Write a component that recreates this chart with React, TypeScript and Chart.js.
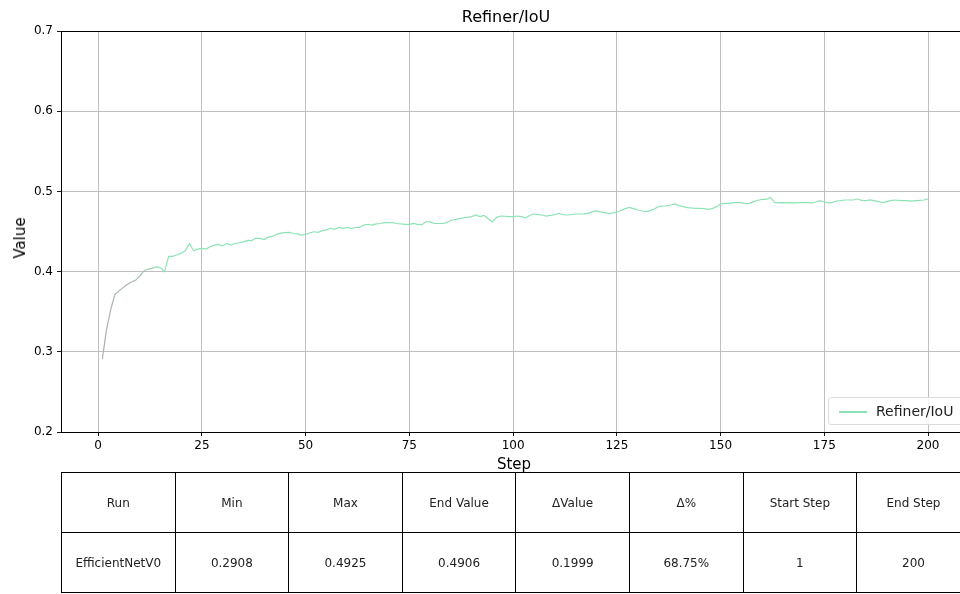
import React, { useEffect, useRef } from "react";
import { Chart, registerables } from "chart.js";

Chart.register(...registerables);

const chartTitle = "Refiner/IoU";
const seriesLabel = "Refiner/IoU";
const xAxisTitle = "Step";
const yAxisTitle = "Value";

const xTicks = [0, 25, 50, 75, 100, 125, 150, 175, 200];
const yTicks = [0.2, 0.3, 0.4, 0.5, 0.6, 0.7];

const firstStep = 1;
const iouValues = [
  0.2908, 0.327, 0.352, 0.371, 0.376, 0.38, 0.384, 0.387, 0.389, 0.394,
  0.401, 0.403, 0.404, 0.406, 0.405, 0.4, 0.419, 0.419, 0.421, 0.423,
  0.426, 0.435, 0.426, 0.428, 0.429, 0.428, 0.431, 0.433, 0.434, 0.432,
  0.435, 0.433, 0.435, 0.436, 0.437, 0.439, 0.4386, 0.4415, 0.4415, 0.44,
  0.443, 0.444, 0.4465, 0.448, 0.4485, 0.449, 0.4475, 0.447, 0.4456, 0.4465,
  0.4485, 0.4497, 0.449, 0.451, 0.452, 0.454, 0.4527, 0.455, 0.454, 0.455,
  0.454, 0.455, 0.455, 0.458, 0.459, 0.458, 0.4594, 0.46, 0.461, 0.461,
  0.461, 0.46, 0.4594, 0.459, 0.459, 0.46, 0.459, 0.4585, 0.462, 0.462,
  0.46, 0.46, 0.46, 0.461, 0.464, 0.465, 0.466, 0.467, 0.4677, 0.4685,
  0.4706, 0.4685, 0.47, 0.466, 0.462, 0.4677, 0.4693, 0.469, 0.4685, 0.4685,
  0.4693, 0.4685, 0.467, 0.47, 0.4718, 0.471, 0.4706, 0.4693, 0.47, 0.471,
  0.4727, 0.471, 0.4706, 0.471, 0.4718, 0.4718, 0.472, 0.4727, 0.4744, 0.4756,
  0.4744, 0.4735, 0.4727, 0.473, 0.474, 0.4764, 0.4785, 0.48, 0.4785, 0.4768,
  0.4756, 0.4747, 0.476, 0.478, 0.481, 0.4818, 0.4818, 0.483, 0.4843, 0.4822,
  0.481, 0.4797, 0.4793, 0.4789, 0.4789, 0.4785, 0.4777, 0.4785, 0.481, 0.4843,
  0.4851, 0.4851, 0.486, 0.486, 0.486, 0.4847, 0.4851, 0.4872, 0.489, 0.49,
  0.49, 0.4925, 0.4862, 0.4858, 0.486, 0.4857, 0.486, 0.4858, 0.4861, 0.4859,
  0.486, 0.4856, 0.4868, 0.4885, 0.4868, 0.4856, 0.4864, 0.488, 0.4885, 0.4893,
  0.4893, 0.4893, 0.4905, 0.4889, 0.4885, 0.4893, 0.4885, 0.4872, 0.486, 0.4872,
  0.4885, 0.4893, 0.4889, 0.4885, 0.4885, 0.488, 0.4885, 0.4889, 0.4893, 0.4906,
];

const tableHeaders = ["Run", "Min", "Max", "End Value", "\u0394Value", "\u0394%", "Start Step", "End Step"];
const tableRow = ["EfficientNetV0", "0.2908", "0.4925", "0.4906", "0.1999", "68.75%", "1", "200"];

const FONT = "'DejaVu Sans', sans-serif";
const LINE_GREEN = "#8ee3b6";
const LINE_GRAY = "#a9b3b0";

function mix(a: string, b: string, t: number) {
  const pa = [1, 3, 5].map((i) => parseInt(a.slice(i, i + 2), 16));
  const pb = [1, 3, 5].map((i) => parseInt(b.slice(i, i + 2), 16));
  const c = pa.map((v, i) => Math.round(v + (pb[i] - v) * t));
  return `rgb(${c[0]},${c[1]},${c[2]})`;
}

const topBorder = {
  id: "topBorder",
  afterDraw(chart: any) {
    const { ctx, chartArea } = chart;
    ctx.save();
    ctx.strokeStyle = "#000";
    ctx.lineWidth = 1;
    ctx.beginPath();
    ctx.moveTo(chartArea.left, chartArea.top + 0.5);
    ctx.lineTo(chartArea.right, chartArea.top + 0.5);
    ctx.stroke();
    ctx.restore();
  },
};

export default function App() {
  const ref = useRef<HTMLCanvasElement | null>(null);

  useEffect(() => {
    if (!ref.current) return;
    const points = iouValues.map((v, i) => ({ x: firstStep + i, y: v }));
    const chart = new Chart(ref.current, {
      type: "line",
      data: {
        datasets: [
          {
            label: seriesLabel,
            data: points,
            borderColor: LINE_GREEN,
            borderWidth: 1.2,
            pointRadius: 0,
            tension: 0,
            segment: {
              borderColor: (c: any) => {
                const i = c.p0DataIndex;
                if (i < 7) return LINE_GRAY;
                if (i < 13) return mix(LINE_GRAY, LINE_GREEN, (i - 7) / 6);
                return LINE_GREEN;
              },
            },
          },
        ],
      },
      options: {
        responsive: false,
        animation: false,
        devicePixelRatio: 1,
        layout: { padding: { top: 31, left: 0, right: 0, bottom: 0 } },
        plugins: {
          legend: { display: false },
          title: { display: false },
          tooltip: { enabled: false },
        },
        scales: {
          x: {
            type: "linear",
            min: -8.95,
            max: 207.7,
            afterFit: (s: any) => {
              s.height = 38;
            },
            afterBuildTicks: (s: any) => {
              s.ticks = xTicks.map((v) => ({ value: v }));
            },
            ticks: {
              color: "#000",
              font: { family: FONT, size: 12 },
              padding: 3,
              maxRotation: 0,
              autoSkip: false,
              callback: (v: any) => String(v),
            },
            grid: {
              color: "#b8b8b8",
              lineWidth: 0.9,
              tickColor: "#000",
              tickLength: 4,
              drawTicks: true,
            },
            border: { color: "#000", width: 1 },
          },
          y: {
            type: "linear",
            min: 0.2,
            max: 0.7,
            afterFit: (s: any) => {
              s.width = 61;
            },
            afterBuildTicks: (s: any) => {
              s.ticks = yTicks.map((v) => ({ value: v }));
            },
            ticks: {
              color: "#000",
              font: { family: FONT, size: 12 },
              padding: 4,
              autoSkip: false,
              callback: (v: any) => Number(v).toFixed(1),
            },
            grid: {
              color: "#b8b8b8",
              lineWidth: 0.9,
              tickColor: "#000",
              tickLength: 4,
              drawTicks: true,
            },
            border: { color: "#000", width: 1 },
          },
        },
      },
      plugins: [topBorder],
    } as any);
    return () => chart.destroy();
  }, []);

  const colW = 113.6;
  const cellStyle: React.CSSProperties = {
    height: 60,
    border: "1px solid #000",
    textAlign: "center",
    verticalAlign: "middle",
    padding: 0,
    boxSizing: "border-box",
  };
  return (
    <div
      style={{
        position: "fixed",
        left: 0,
        top: 0,
        width: 960,
        height: 594,
        overflow: "hidden",
        background: "#fff",
        fontFamily: FONT,
        color: "#000",
      }}
    >
      <canvas ref={ref} width={960} height={470} style={{ position: "absolute", left: 0, top: 0, width: 960, height: 470 }} />
      <div
        style={{
          position: "absolute",
          left: 406,
          width: 200,
          top: 6,
          textAlign: "center",
          fontSize: 16,
          lineHeight: "22px",
          whiteSpace: "nowrap",
        }}
      >
        {chartTitle}
      </div>
      <div
        style={{
          position: "absolute",
          left: 414,
          width: 200,
          top: 454,
          textAlign: "center",
          fontSize: 15,
          lineHeight: "20px",
        }}
      >
        {xAxisTitle}
      </div>
      <div
        style={{
          position: "absolute",
          left: 20,
          top: 238,
          transform: "translate(-50%, -50%) rotate(-90deg)",
          fontSize: 15,
          lineHeight: "20px",
          whiteSpace: "nowrap",
        }}
      >
        {yAxisTitle}
      </div>
      <div
        style={{
          position: "absolute",
          left: 828,
          top: 397,
          width: 140,
          height: 28,
          border: "1px solid #dcdcdc",
          borderRadius: 3,
          background: "rgba(255,255,255,0.85)",
          boxSizing: "border-box",
        }}
      >
        <div
          style={{
            position: "absolute",
            left: 10,
            top: 13,
            width: 28,
            height: 2,
            background: LINE_GREEN,
          }}
        />
        <div
          style={{
            position: "absolute",
            left: 47,
            top: 3,
            fontSize: 14,
            lineHeight: "20px",
            whiteSpace: "nowrap",
            color: "#222",
          }}
        >
          {seriesLabel}
        </div>
      </div>
      <table
        style={{
          position: "absolute",
          left: 61,
          top: 472,
          borderCollapse: "collapse",
          tableLayout: "fixed",
          width: colW * tableHeaders.length,
          fontSize: 12,
          fontFamily: FONT,
          color: "#222",
        }}
      >
        <colgroup>
          {tableHeaders.map((_, i) => (
            <col key={i} style={{ width: colW }} />
          ))}
        </colgroup>
        <tbody>
          <tr>
            {tableHeaders.map((h, i) => (
              <td key={i} style={cellStyle}>
                {h}
              </td>
            ))}
          </tr>
          <tr>
            {tableRow.map((c, i) => (
              <td key={i} style={cellStyle}>
                {c}
              </td>
            ))}
          </tr>
        </tbody>
      </table>
    </div>
  );
}
